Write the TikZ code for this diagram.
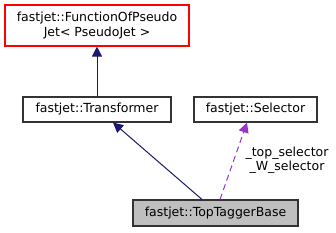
\documentclass[tikz,border=0pt]{standalone}
\usepackage{fontspec}
\setmainfont{DejaVu Sans}
\usetikzlibrary{arrows.meta}
\definecolor{navyedge}{HTML}{191970}
\definecolor{purpedge}{HTML}{9A32CD}
\definecolor{boxgray}{HTML}{BFBFBF}
\tikzset{
  cls/.style={draw=black!80, line width=1.1pt, fill=white, inner sep=0pt, align=center,
    font=\fontsize{12.5}{15}\selectfont},
  inh/.style={draw=navyedge, line width=1pt, -{Triangle[length=10pt,width=10pt]}},
  use/.style={draw=purpedge, line width=1pt, dashed, dash pattern=on 6pt off 4pt, -{Triangle[length=10pt,width=10pt]}},
  lbl/.style={align=center, inner sep=0pt, font=\fontsize{12.5}{14}\selectfont}
}
\begin{document}
\begin{tikzpicture}[x=1pt,y=-1pt]
\useasboundingbox (0,0) rectangle (336,232);
\node[cls, draw=red, minimum width=184pt, minimum height=41pt] (fp) at (97,25.5)
  {fastjet::FunctionOfPseudo\\Jet< PseudoJet >};
\node[cls, minimum width=148pt, minimum height=25pt] (tr) at (97,109.5) {fastjet::Transformer};
\node[cls, minimum width=123pt, minimum height=25pt] (sel) at (255.5,109.5) {fastjet::Selector};
\node[cls, fill=boxgray, minimum width=165pt, minimum height=26pt] (tt) at (215.5,213) {fastjet::TopTaggerBase};
\draw[inh] (tr.north) -- (fp.south);
\draw[inh] ([xshift=-13.5pt]tt.north) -- ([xshift=16pt]tr.south);
\draw[use] ([xshift=4.5pt]tt.north) -- ([xshift=-8.5pt]sel.south);
\node[lbl] (l) at (287,160) {\_top\_selector\\\_W\_selector};
\end{tikzpicture}
\end{document}
